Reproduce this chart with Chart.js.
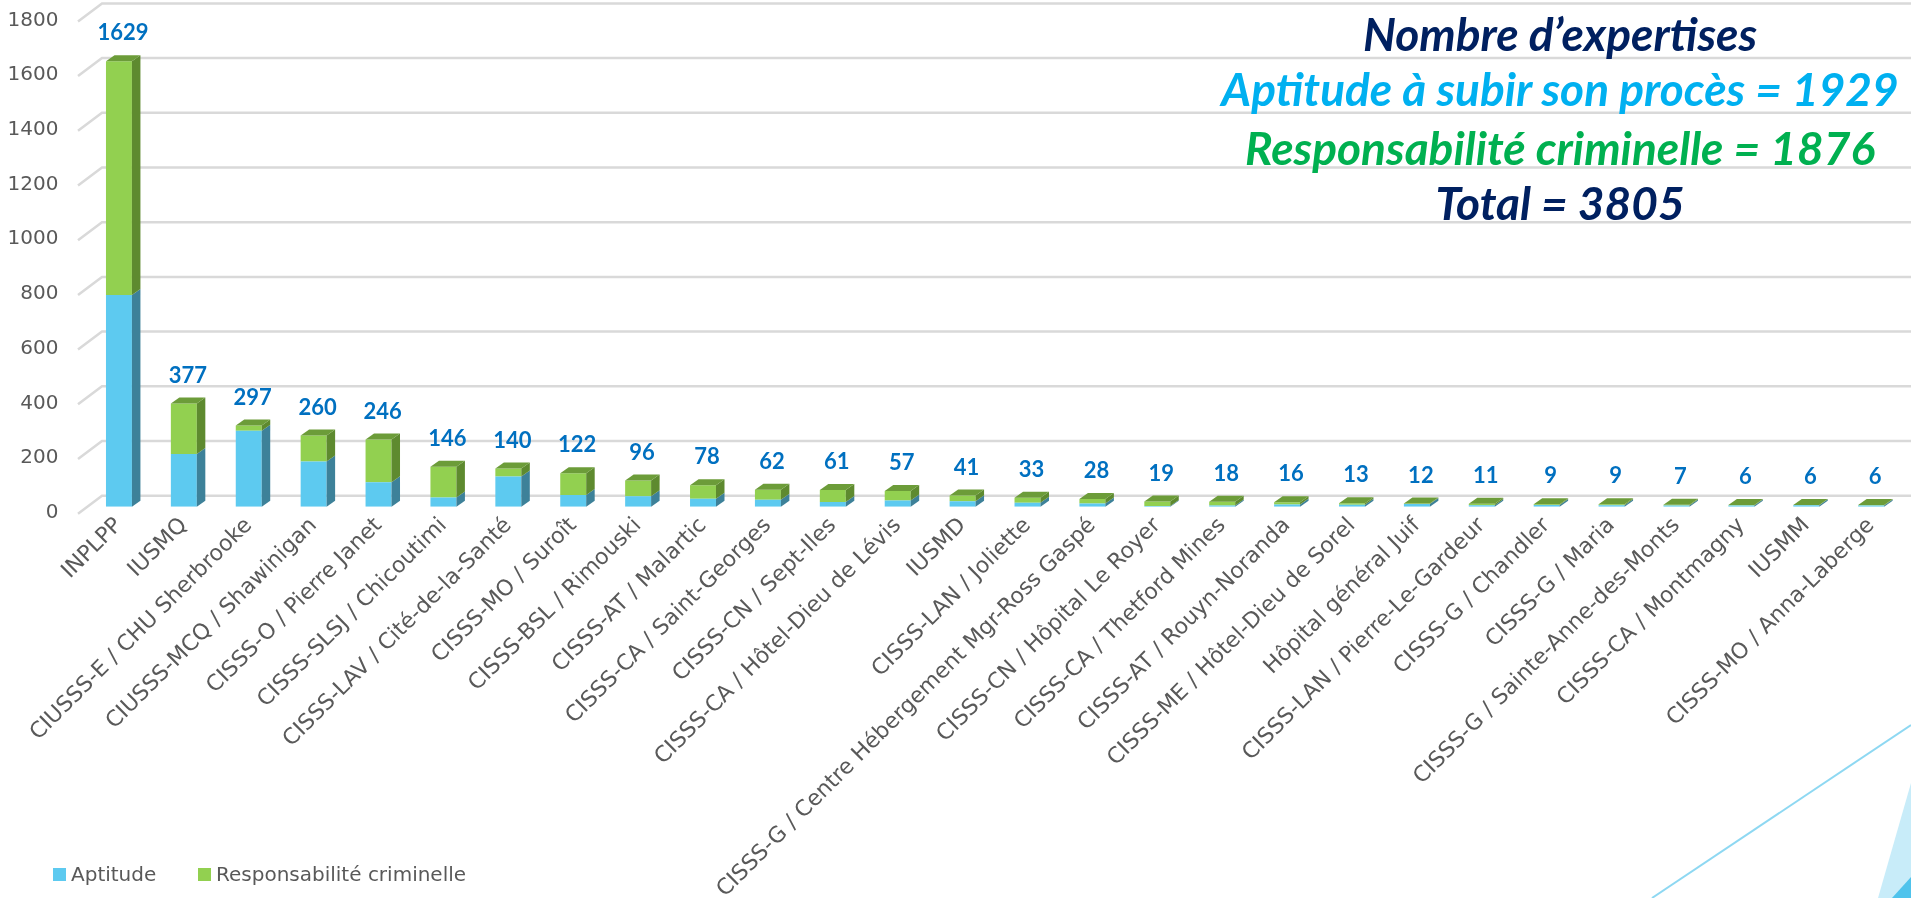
<!DOCTYPE html>
<html>
<head>
<meta charset="utf-8">
<script src="https://cdn.jsdelivr.net/npm/chart.js@4.4.1/dist/chart.umd.min.js"></script>
<style>
  html, body { margin:0; padding:0; background:#ffffff; }
  #wrap { position:relative; width:1911px; height:898px; overflow:hidden; background:#fff; }
  #c { position:absolute; left:0; top:0; }
  .ttl { position:absolute; left:1110px; width:900px; text-align:center; font-family:'Lato','Open Sans',sans-serif; font-weight:bold; font-style:italic; white-space:nowrap; line-height:1; }
  .leg { position:absolute; font-family:'DejaVu Sans',sans-serif; font-size:20px; color:#595959; white-space:nowrap; }
  .sw { position:absolute; width:13px; height:13px; }
  svg { position:absolute; left:0; top:0; }
</style>
</head>
<body>
<div id="wrap">
  <svg width="1911" height="898">
    <line x1="1652" y1="898" x2="1911" y2="725" stroke="#8ED8F2" stroke-width="2"/>
    <polygon points="1878,898 1911,783 1911,898" fill="#C8ECF9"/>
    <polygon points="1892,898 1911,877 1911,898" fill="#4FC3EC"/>
  </svg>
  <canvas id="c" width="1911" height="898"></canvas>
  <div class="ttl" id="t1" style="color:#002060">Nombre d’expertises</div>
  <div class="ttl" id="t2" style="color:#00B0F0">Aptitude à subir son procès = 1929</div>
  <div class="ttl" id="t3" style="color:#00B050">Responsabilité criminelle = 1876</div>
  <div class="ttl" id="t4" style="color:#002060">Total = 3805</div>
  <div class="sw" style="left:53px;top:868px;background:#5DCAF0"></div>
  <div class="leg" style="left:71px;top:862px">Aptitude</div>
  <div class="sw" style="left:198px;top:868px;background:#92D050"></div>
  <div class="leg" style="left:216px;top:862px">Responsabilité criminelle</div>
</div>
<script>
const categories = [
  "INPLPP", "IUSMQ", "CIUSSS-E / CHU Sherbrooke", "CIUSSS-MCQ / Shawinigan",
  "CISSS-O / Pierre Janet", "CISSS-SLSJ / Chicoutimi", "CISSS-LAV / Cité-de-la-Santé",
  "CISSS-MO / Suroît", "CISSS-BSL / Rimouski", "CISSS-AT / Malartic",
  "CISSS-CA / Saint-Georges", "CISSS-CN / Sept-Iles", "CISSS-CA / Hôtel-Dieu de Lévis",
  "IUSMD", "CISSS-LAN / Joliette", "CISSS-G / Centre Hébergement Mgr-Ross Gaspé",
  "CISSS-CN / Hôpital Le Royer", "CISSS-CA / Thetford Mines", "CISSS-AT / Rouyn-Noranda",
  "CISSS-ME / Hôtel-Dieu de Sorel", "Hôpital général Juif", "CISSS-LAN / Pierre-Le-Gardeur",
  "CISSS-G / Chandler", "CISSS-G / Maria", "CISSS-G / Sainte-Anne-des-Monts",
  "CISSS-CA / Montmagny", "IUSMM", "CISSS-MO / Anna-Laberge"
];
const aptitude = [774,193,278,165,89,34,110,43,38,29,25,17,23,20,14,12,3,4,8,7,10,5,6,5,4,4,5,4];
const responsabilite = [855,184,19,95,157,112,30,79,58,49,37,44,34,21,19,16,16,14,8,6,2,6,3,4,3,2,1,2];
const totals = [1629,377,297,260,246,146,140,122,96,78,62,61,57,41,33,28,19,18,16,13,12,11,9,9,7,6,6,6];
const yTicks = [0,200,400,600,800,1000,1200,1400,1600,1800];

// title placement
(function(){
  const size = 46;
  const ys = [36.5, 91.5, 150, 205];
  ['t1','t2','t3','t4'].forEach((id,i)=>{
    const el = document.getElementById(id);
    el.style.fontSize = size + 'px';
    el.style.top = (ys[i] - size*0.55) + 'px';
  });
})();

const DX = 8.5, DY = 6;
const frontCols = ['#5DCAF0', '#92D050'];
const sideCols  = ['#3D8199', '#5E8A2F'];
const topCols   = ['#4FA9CC', '#6C9C39'];

const grid3d = {
  id: 'grid3d',
  beforeDatasetsDraw(chart) {
    const ctx = chart.ctx, ys = chart.scales.y;
    ctx.save();
    ctx.strokeStyle = '#D9D9D9';
    ctx.lineWidth = 2.5;
    yTicks.forEach(v => {
      const y = ys.getPixelForValue(v);
      ctx.beginPath();
      ctx.moveTo(78, y + 7);
      ctx.lineTo(102, y - 11);
      ctx.lineTo(1911, y - 11);
      ctx.stroke();
    });
    ctx.restore();
  }
};

const bars3d = {
  id: 'bars3d',
  afterDatasetsDraw(chart) {
    const ctx = chart.ctx;
    const n = categories.length;
    ctx.save();
    for (let i = 0; i < n; i++) {
      let topIdx = -1;
      for (let d = 0; d < chart.data.datasets.length; d++) {
        const el = chart.getDatasetMeta(d).data[i];
        const p = el.getProps(['x','y','base','width'], true);
        if (Math.abs(p.base - p.y) < 0.01) continue;
        topIdx = d;
        const r = p.x + p.width/2;
        ctx.fillStyle = sideCols[d];
        ctx.beginPath();
        ctx.moveTo(r, p.y);
        ctx.lineTo(r + DX, p.y - DY);
        ctx.lineTo(r + DX, p.base - DY);
        ctx.lineTo(r, p.base);
        ctx.closePath();
        ctx.fill();
      }
      if (topIdx >= 0) {
        const el = chart.getDatasetMeta(topIdx).data[i];
        const p = el.getProps(['x','y','base','width'], true);
        const l = p.x - p.width/2, r = p.x + p.width/2;
        ctx.fillStyle = topCols[topIdx];
        ctx.beginPath();
        ctx.moveTo(l, p.y);
        ctx.lineTo(l + DX, p.y - DY);
        ctx.lineTo(r + DX, p.y - DY);
        ctx.lineTo(r, p.y);
        ctx.closePath();
        ctx.fill();
        ctx.fillStyle = '#0070C0';
        ctx.font = 'bold 22px Lato';
        ctx.textAlign = 'center';
        ctx.textBaseline = 'middle';
        ctx.fillText(String(totals[i]), p.x + 4, p.y - 28);
      }
    }
    ctx.restore();
  }
};

new Chart(document.getElementById('c'), {
  type: 'bar',
  data: {
    labels: categories,
    datasets: [
      { label: 'Aptitude', data: aptitude, backgroundColor: frontCols[0], borderWidth: 0,
        barPercentage: 0.40, categoryPercentage: 1.0 },
      { label: 'Responsabilité criminelle', data: responsabilite, backgroundColor: frontCols[1], borderWidth: 0,
        barPercentage: 0.40, categoryPercentage: 1.0 }
    ]
  },
  options: {
    responsive: false,
    animation: false,
    devicePixelRatio: 1,
    layout: { padding: { left: 0, right: 7.4, top: 14.4, bottom: 0 } },
    plugins: {
      legend: { display: false },
      tooltip: { enabled: false },
      title: { display: false }
    },
    scales: {
      x: {
        stacked: true,
        grid: { display: false, drawTicks: false },
        border: { display: false },
        ticks: {
          autoSkip: false, maxRotation: 45, minRotation: 45,
          color: '#595959', padding: 6,
          font: { family: 'DejaVu Sans', size: 22 }
        },
        afterFit(scale) { scale.height = 898 - 506.7; scale.paddingLeft = 0; scale.paddingRight = 0; }
      },
      y: {
        stacked: true,
        min: 0, max: 1800,
        grid: { display: false, drawTicks: false },
        border: { display: false },
        ticks: {
          stepSize: 200, color: '#595959', padding: 28, labelOffset: 6,
          font: { family: 'DejaVu Sans', size: 20 },
          callback: (v) => String(v)
        },
        afterFit(scale) { scale.width = 86.5; scale.paddingTop = 0; scale.paddingBottom = 0; }
      }
    }
  },
  plugins: [grid3d, bars3d]
});
</script>
</body>
</html>
